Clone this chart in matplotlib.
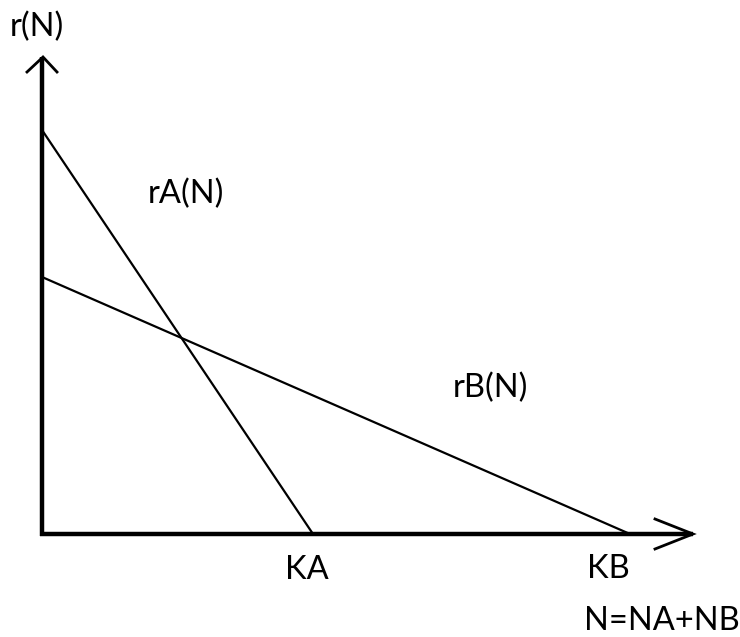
#!/usr/bin/env python3
"""Sketch of two linear per-capita growth curves rA(N) and rB(N)."""

import matplotlib
matplotlib.use("Agg")
import matplotlib.pyplot as plt

# carrying capacities and intrinsic rates (1 unit = 100 px in the sketch)
KA = 2.71
KB = 5.88
rA0 = 4.04
rB0 = 2.57

# axis extents
x_axis_end = 6.51
y_axis_end = 4.77

line_A_x = [0.0, KA]
line_A_y = [rA0, 0.0]
line_B_x = [0.0, KB]
line_B_y = [rB0, 0.0]


def main() -> int:
    plt.rcParams["font.family"] = ["Lato", "DejaVu Sans"]
    fig = plt.figure(figsize=(7.40, 6.37), dpi=100)
    ax = fig.add_axes([0, 0, 1, 1])
    ax.set_xlim(-0.42, 6.98)
    ax.set_ylim(-1.03, 5.34)
    ax.axis("off")

    # axes
    ax.plot([-0.02, x_axis_end], [0, 0], color="black", lw=3.2, solid_capstyle="butt")
    ax.plot([0, 0], [-0.02, y_axis_end], color="black", lw=3.2, solid_capstyle="butt")

    # open arrowheads
    ax.plot([x_axis_end - 0.38, x_axis_end, x_axis_end - 0.38], [0.15, 0, -0.15],
            color="black", lw=2.0, solid_joinstyle="miter")
    ax.plot([-0.15, 0.01, 0.15], [y_axis_end - 0.15, y_axis_end, y_axis_end - 0.15],
            color="black", lw=2.0, solid_joinstyle="miter")

    # growth lines
    ax.plot(line_A_x, line_A_y, color="black", lw=1.6)
    ax.plot(line_B_x, line_B_y, color="black", lw=1.6)

    fs = 23.5
    ax.text(-0.05, 5.07, "r(N)", fontsize=fs, ha="center", va="center")
    ax.text(1.44, 3.40, "rA(N)", fontsize=fs, ha="center", va="center")
    ax.text(4.48, 1.46, "rB(N)", fontsize=fs, ha="center", va="center")
    ax.text(KA - 0.06, -0.36, "KA", fontsize=fs, ha="center", va="center")
    ax.text(KB - 0.22, -0.35, "KB", fontsize=fs, ha="center", va="center")
    ax.text(6.20, -0.87, "N=NA+NB", fontsize=fs, ha="center", va="center")

    fig.savefig("out.png", dpi=100)
    return 0


if __name__ == "__main__":
    raise SystemExit(main())
